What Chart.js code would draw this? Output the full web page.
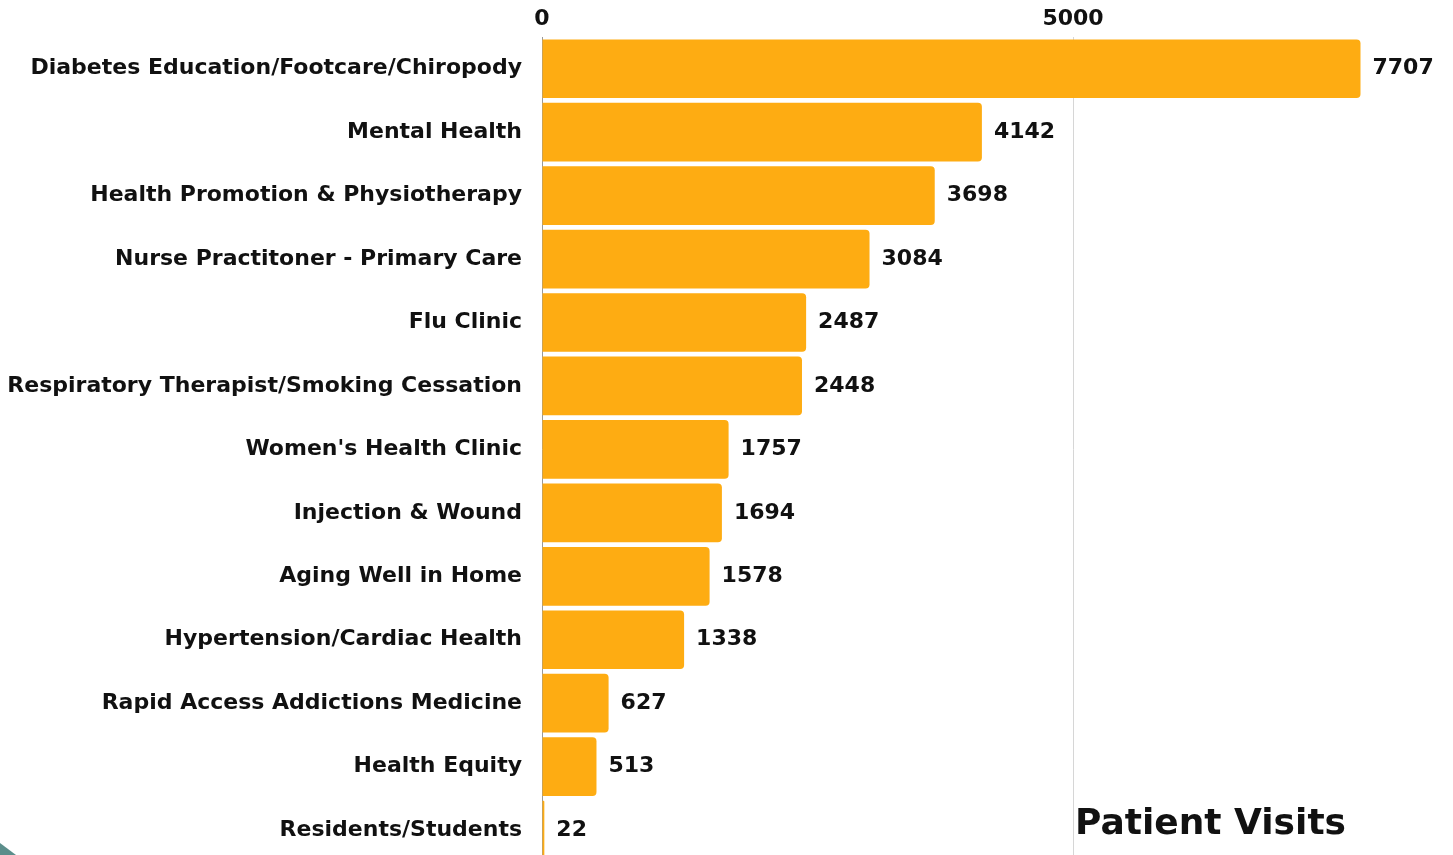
<!DOCTYPE html>
<html>
<head>
<meta charset="utf-8">
<script src="https://cdn.jsdelivr.net/npm/chart.js@4.4.1/dist/chart.umd.min.js"></script>
<style>
  html, body { margin: 0; padding: 0; background: #fff; overflow: hidden; width: 1453px; height: 855px; }
  #c { position: absolute; left: 0; top: 0; }
  #title { position: absolute; left: 1075px; top: 804px; font-family: "DejaVu Sans", sans-serif; font-weight: bold; font-size: 36px; letter-spacing: 0px; color: #111; line-height: 36px; white-space: nowrap; }
  #corner { position: absolute; left: 0; top: 843px; width: 16px; height: 12px; background: #5b8e8b; clip-path: polygon(0 0, 100% 100%, 0 100%); }
</style>
</head>
<body>
<canvas id="c" width="1453" height="895"></canvas>
<div id="title">Patient Visits</div>
<div id="corner"></div>
<script>
const categories = [
  "Diabetes Education/Footcare/Chiropody",
  "Mental Health",
  "Health Promotion & Physiotherapy",
  "Nurse Practitoner - Primary Care",
  "Flu Clinic",
  "Respiratory Therapist/Smoking Cessation",
  "Women's Health Clinic",
  "Injection & Wound",
  "Aging Well in Home",
  "Hypertension/Cardiac Health",
  "Rapid Access Addictions Medicine",
  "Health Equity",
  "Residents/Students"
];
const visits = [7707, 4142, 3698, 3084, 2487, 2448, 1757, 1694, 1578, 1338, 627, 513, 22];
const xTicks = [0, 5000];

const FONT = '"DejaVu Sans", sans-serif';

const valueLabels = {
  id: 'valueLabels',
  afterDatasetsDraw(chart) {
    const ctx = chart.ctx;
    const meta = chart.getDatasetMeta(0);
    ctx.save();
    ctx.font = 'bold 22px ' + FONT;
    ctx.fillStyle = '#111';
    ctx.textBaseline = 'middle';
    ctx.textAlign = 'left';
    meta.data.forEach((bar, i) => {
      ctx.fillText(String(visits[i]), bar.x + 12, bar.y);
    });
    ctx.restore();
  }
};

new Chart(document.getElementById('c'), {
  type: 'bar',
  data: {
    labels: categories,
    datasets: [{
      data: visits,
      backgroundColor: '#FEAC12',
      borderWidth: 0,
      borderRadius: 4,
      borderSkipped: 'start',
      categoryPercentage: 1,
      barPercentage: 0.925
    }]
  },
  options: {
    indexAxis: 'y',
    responsive: false,
    animation: false,
    layout: { padding: { left: 0, right: 0, top: 0, bottom: 0 } },
    plugins: { legend: { display: false }, tooltip: { enabled: false } },
    scales: {
      x: {
        position: 'top',
        min: 0,
        max: 8578,
        afterBuildTicks(scale) { scale.ticks = xTicks.map(v => ({ value: v })); },
        afterFit(scale) { scale.height = 37; },
        grid: { color: '#d6d6d6', lineWidth: 1, drawTicks: false },
        border: { display: false },
        ticks: { font: { family: FONT, weight: 'bold', size: 22 }, color: '#111', padding: 5, callback: v => String(v) }
      },
      y: {
        afterFit(scale) { scale.width = 542; },
        grid: { display: false, drawTicks: false },
        border: { display: true, color: '#999', width: 1 },
        ticks: { font: { family: FONT, weight: 'bold', size: 22 }, color: '#111', padding: 20, autoSkip: false }
      }
    }
  },
  plugins: [valueLabels]
});
</script>
</body>
</html>
